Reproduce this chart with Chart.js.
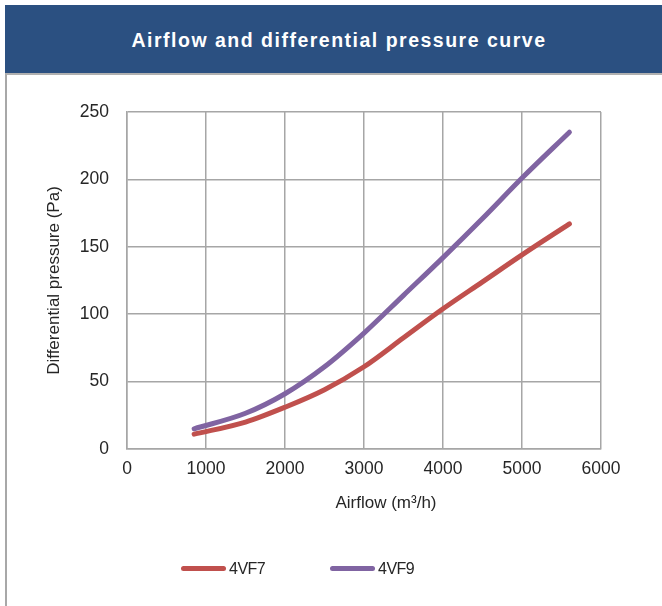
<!DOCTYPE html>
<html>
<head>
<meta charset="utf-8">
<script src="https://cdn.jsdelivr.net/npm/chart.js@4"></script>
<style>
  body { margin: 0; background: #fff; font-family: "Liberation Sans", Arial, sans-serif; }
  #header {
    position: absolute; left: 5px; top: 5px; width: 657px; height: 68px;
    background: #2B5081; color: #fff; font-weight: bold; font-size: 19.5px;
    letter-spacing: 1.5px; text-align: center; line-height: 70px; text-indent: 11px;
  }
  #box {
    position: absolute; left: 5px; top: 73px; width: 660px; height: 540px;
    border-top: 2px solid #B0B0B0; border-left: 2px solid #A8A8A8; box-sizing: border-box;
  }
  #wrap { position: absolute; left: 7px; top: 80px; width: 655px; height: 526px; }
  #legend { position: absolute; top: 558px; left: 0; width: 662px; height: 22px; font-size: 16px; color: #262626; }
  .item { position: absolute; top: 0; height: 22px; line-height: 22px; }
  .swatch { position: absolute; top: 8px; left: 0; width: 45px; height: 5px; border-radius: 3px; }
  .label { position: absolute; left: 48px; top: 0; letter-spacing: -0.5px; }
</style>
</head>
<body>
<div id="header">Airflow and differential pressure curve</div>
<div id="box"></div>
<div id="wrap"><canvas id="chart"></canvas></div>
<div id="legend"></div>
<script>
// data
const airflow = [850, 1500, 2000, 2500, 3000, 3500, 4000, 4500, 5000, 5600];
const vf7 = [11, 20, 31, 44, 61, 82.5, 104, 124, 144, 167];
const vf9 = [15, 26.5, 41, 61, 86, 114, 142, 171, 201, 235];
const seriesNames = ['4VF7', '4VF9'];
const seriesColors = ['#C0504D', '#8064A2'];
const legendLeft = [181, 330];

function toPoints(ys) {
    return airflow.map((x, i) => ({x: x, y: ys[i]}));
}

const gridColor = '#A6A6A6';
const fontFamily = '"Liberation Sans", Arial, sans-serif';
const tickFont = {family: fontFamily, size: 17.5};

// x axis title sits a bit right of the plot centre in the original
const xTitle = {
    id: 'xTitle',
    afterDraw(chart) {
        const ctx = chart.ctx;
        const area = chart.chartArea;
        ctx.save();
        ctx.font = '17px ' + fontFamily;
        ctx.fillStyle = '#262626';
        ctx.textAlign = 'center';
        ctx.textBaseline = 'middle';
        ctx.fillText('Airflow (m\u00B3/h)', (area.left + area.right) / 2 + 22, area.bottom + 54);
        ctx.restore();
    }
};

const ctx = document.getElementById('chart');
const chart = new Chart(ctx, {
    type: 'line',
    data: {
        datasets: [
            {label: seriesNames[0], data: toPoints(vf7), borderColor: seriesColors[0], backgroundColor: seriesColors[0]},
            {label: seriesNames[1], data: toPoints(vf9), borderColor: seriesColors[1], backgroundColor: seriesColors[1]}
        ]
    },
    options: {
        responsive: true,
        maintainAspectRatio: false,
        animation: false,
        layout: {padding: {left: 36, top: 32, right: 61, bottom: 117}},
        elements: {
            line: {borderWidth: 5, cubicInterpolationMode: 'monotone', borderCapStyle: 'round', borderJoinStyle: 'round'},
            point: {radius: 0}
        },
        plugins: {
            legend: {display: false},
            tooltip: {enabled: false}
        },
        scales: {
            x: {
                type: 'linear', min: 0, max: 6000,
                ticks: {stepSize: 1000, padding: 10, color: '#262626', font: tickFont,
                        callback: v => String(v)},
                grid: {color: gridColor, lineWidth: 1.5, drawTicks: false},
                border: {color: gridColor, width: 1.5},
                afterFit(scale) { scale.height = 40; }
            },
            y: {
                min: 0, max: 250,
                ticks: {stepSize: 50, padding: 18, color: '#262626', font: tickFont},
                grid: {color: gridColor, lineWidth: 1.5, drawTicks: false},
                border: {color: gridColor, width: 1.5},
                title: {display: true, text: 'Differential pressure (Pa)', color: '#262626',
                        font: {family: fontFamily, size: 17}, padding: {top: 1, bottom: 0}},
                afterFit(scale) { scale.width = 84; }
            }
        }
    },
    plugins: [xTitle]
});

// legend built from the datasets
const legend = document.getElementById('legend');
chart.data.datasets.forEach((ds, i) => {
    const item = document.createElement('div');
    item.className = 'item';
    item.style.left = legendLeft[i] + 'px';
    item.innerHTML = '<span class="swatch"></span><span class="label"></span>';
    item.querySelector('.swatch').style.background = ds.borderColor;
    item.querySelector('.label').textContent = ds.label;
    legend.appendChild(item);
});
</script>
</body>
</html>
